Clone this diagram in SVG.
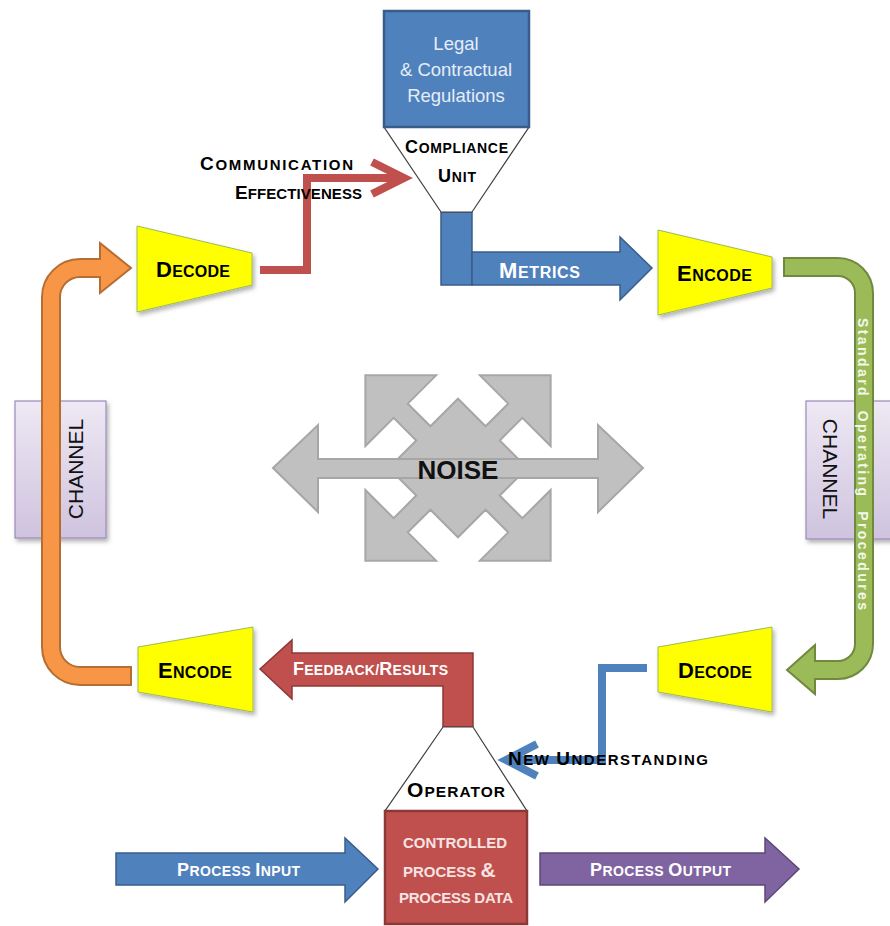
<svg xmlns="http://www.w3.org/2000/svg" width="890" height="926" viewBox="0 0 890 926">
  <defs>
    <linearGradient id="chanFill" x1="0" y1="0" x2="0" y2="1">
      <stop offset="0" stop-color="#EEE9F4"/>
      <stop offset="1" stop-color="#CFC3DF"/>
    </linearGradient>
    <filter id="shadow" x="-15%" y="-15%" width="140%" height="140%">
      <feDropShadow dx="2" dy="3" stdDeviation="2" flood-color="#000" flood-opacity="0.3"/>
    </filter>
    <style>
      text { font-family: "Liberation Sans", Arial, sans-serif; }
      .sc { font-weight: bold; fill: #000; }
      .wt { fill: #FFFFFF; }
      .coder { fill: #FFFF00; stroke: #9BBB59; stroke-width: 1; filter: url(#shadow); }
      .funnel { fill: #FFFFFF; stroke: #404040; stroke-width: 1.2; }
      .channel { fill: url(#chanFill); stroke: #9C8AB8; stroke-width: 1.2; filter: url(#shadow); }
      .noise { fill: #C0C0C0; stroke: #A6A6A6; stroke-width: 2; }
      .blue { fill: #4F81BD; stroke: #385D8A; stroke-width: 1.5; }
      .red { fill: #C0504D; stroke: #8C3836; stroke-width: 1.5; }
      .purple { fill: #8064A2; stroke: #5C4776; stroke-width: 1.5; }
      .line-red { fill: none; stroke: #C0504D; stroke-width: 8; }
      .line-blue { fill: none; stroke: #4F81BD; stroke-width: 8; }
    </style>
  </defs>

  <!-- channel boxes (drawn beneath the loop bands) -->
  <g id="channel-left">
    <rect class="channel" x="15" y="401" width="91" height="137"/>
  </g>
  <g id="channel-right">
    <rect class="channel" x="806" y="401" width="90" height="138"/>
  </g>

  <!-- noise symbol -->
  <g id="noise">
    <polygon class="noise" transform="translate(458,468) rotate(45)"
      points="49,-10 81,-10 81,-50 131,0 81,50 81,10 49,10 49,49 10,49 10,81 50,81 0,131 -50,81 -10,81 -10,49 -49,49 -49,10 -81,10 -81,50 -131,0 -81,-50 -81,-10 -49,-10 -49,-49 -10,-49 -10,-81 -50,-81 0,-131 50,-81 10,-81 10,-49 49,-49"/>
    <polygon class="noise" points="273,468 318,425 318,459 598,459 598,425 643,468 598,512 598,478 318,478 318,512"/>
    <text x="458" y="479" text-anchor="middle" font-size="26" font-weight="bold" fill="#111">NOISE</text>
  </g>

  <!-- connectors -->
  <g id="connectors">
    <!-- orange loop band, left side -->
    <path d="M132 676 H80 A29 29 0 0 1 51 647 V297 A29 29 0 0 1 80 268 H102" fill="none" stroke="#B66D31" stroke-width="20"/>
    <polygon points="100,243 131,268 100,293" fill="#F79646" stroke="#B66D31" stroke-width="2"/>
    <path d="M130 676 H80 A29 29 0 0 1 51 647 V297 A29 29 0 0 1 80 268 H102" fill="none" stroke="#F79646" stroke-width="16"/>

    <!-- green loop band, right side -->
    <path d="M783 267 H838 A26 26 0 0 1 864 293 V644 A26 26 0 0 1 838 670 H813" fill="none" stroke="#71893F" stroke-width="20"/>
    <polygon points="815,645 787,670 815,694" fill="#9BBB59" stroke="#71893F" stroke-width="2"/>
    <path d="M785 267 H838 A26 26 0 0 1 864 293 V644 A26 26 0 0 1 838 670 H813" fill="none" stroke="#9BBB59" stroke-width="16"/>
    <text transform="translate(858,318) rotate(90)" font-size="14" font-weight="bold" fill="#F3F8EA" style="white-space:pre" textLength="292" lengthAdjust="spacing">Standard  Operating  Procedures</text>

    <!-- communication effectiveness feedback line -->
    <path class="line-red" d="M260 270 H307 V178 H403"/>
    <path class="line-red" d="M372 162 L404 178 L372 194"/>

    <!-- new understanding line -->
    <path class="line-blue" d="M647 668 H602 V760 H507"/>
    <path class="line-blue" d="M537 744 L506 760 L537 776"/>

    <!-- metrics arrow -->
    <rect class="blue" x="441" y="212" width="31" height="73"/>
    <polygon class="blue" points="472,252 620,252 620,237 652,268 620,300 620,285 472,285"/>

    <!-- feedback / results arrow -->
    <polygon class="red" points="473,653 292,653 292,640 260,669 292,699 292,686 443,686 443,727 473,727"/>

    <!-- process input / output arrows -->
    <polygon class="blue" points="116,853 345,853 345,838 378,869 345,902 345,885 116,885"/>
    <polygon class="purple" points="540,853 765,853 765,838 799,869 765,902 765,885 540,885"/>
  </g>

  <!-- labels on connectors -->
  <g id="connector-labels">
    <text class="sc" x="200" y="170" font-size="15" textLength="153"><tspan font-size="19">C</tspan>OMMUNICATION</text>
    <text class="sc" x="235" y="199" font-size="15" textLength="127"><tspan font-size="19">E</tspan>FFECTIVENESS</text>
    <text class="sc wt" x="499" y="278" font-size="16" textLength="81"><tspan font-size="22">M</tspan>ETRICS</text>
    <text class="sc wt" x="293" y="675" font-size="14" textLength="155"><tspan font-size="18">F</tspan>EEDBACK/<tspan font-size="18">R</tspan>ESULTS</text>
    <text class="sc" x="508" y="765" font-size="15" textLength="200"><tspan font-size="19">N</tspan>EW <tspan font-size="19">U</tspan>NDERSTANDING</text>
    <text class="sc wt" x="177" y="876" font-size="14" textLength="123"><tspan font-size="18">P</tspan>ROCESS <tspan font-size="18">I</tspan>NPUT</text>
    <text class="sc wt" x="590" y="876" font-size="14" textLength="141"><tspan font-size="18">P</tspan>ROCESS <tspan font-size="18">O</tspan>UTPUT</text>
  </g>

  <!-- channel labels -->
  <g id="channel-labels">
    <text transform="translate(83,469) rotate(-90)" text-anchor="middle" font-size="21" fill="#111">CHANNEL</text>
    <text transform="translate(823,469) rotate(90)" text-anchor="middle" font-size="21" fill="#111">CHANNEL</text>
  </g>

  <!-- compliance unit with legal regulations -->
  <g id="compliance-unit">
    <polygon class="funnel" points="384,127 529,127 472,212 441,212"/>
    <text class="sc" x="405" y="153" font-size="14" textLength="103"><tspan font-size="18">C</tspan>OMPLIANCE</text>
    <text class="sc" x="438" y="182" font-size="14" textLength="38"><tspan font-size="18">U</tspan>NIT</text>
  </g>
  <g id="legal-regulations">
    <rect x="384" y="11" width="145" height="116" fill="#4F81BD" stroke="#385D8A" stroke-width="2.5"/>
    <text x="456" y="50" text-anchor="middle" font-size="18.5" fill="#E6EDF7">Legal</text>
    <text x="456" y="76" text-anchor="middle" font-size="18.5" fill="#E6EDF7">&amp; Contractual</text>
    <text x="456" y="102" text-anchor="middle" font-size="18.5" fill="#E6EDF7">Regulations</text>
  </g>

  <!-- encoders / decoders -->
  <g id="decode-top-left">
    <polygon class="coder" points="137,226 252,253 252,285 137,312"/>
    <text class="sc" x="156" y="277" font-size="16" textLength="74"><tspan font-size="22">D</tspan>ECODE</text>
  </g>
  <g id="encode-top-right">
    <polygon class="coder" points="658,230 772,257 772,288 658,315"/>
    <text class="sc" x="677" y="281" font-size="16" textLength="75"><tspan font-size="22">E</tspan>NCODE</text>
  </g>
  <g id="encode-bottom-left">
    <polygon class="coder" points="138,647 253,627 253,712 138,692"/>
    <text class="sc" x="158" y="678" font-size="16" textLength="74"><tspan font-size="22">E</tspan>NCODE</text>
  </g>
  <g id="decode-bottom-right">
    <polygon class="coder" points="658,647 772,627 772,712 658,692"/>
    <text class="sc" x="678" y="678" font-size="16" textLength="74"><tspan font-size="22">D</tspan>ECODE</text>
  </g>

  <!-- operator and controlled process -->
  <g id="operator">
    <polygon class="funnel" points="443,727 473,727 527,811 385,811"/>
    <text class="sc" x="407" y="797" font-size="15.5" textLength="98"><tspan font-size="21">O</tspan>PERATOR</text>
  </g>
  <g id="controlled-process">
    <rect x="385" y="811" width="142" height="113" fill="#C0504D" stroke="#8C3836" stroke-width="2.5"/>
    <text x="455" y="848" text-anchor="middle" font-size="15" font-weight="bold" fill="#F6E3E2" textLength="104">CONTROLLED</text>
    <text x="403" y="877" font-size="15" font-weight="bold" fill="#F6E3E2">PROCESS <tspan font-size="21">&amp;</tspan></text>
    <text x="456" y="903" text-anchor="middle" font-size="15" font-weight="bold" fill="#F6E3E2" textLength="114">PROCESS DATA</text>
  </g>
</svg>
